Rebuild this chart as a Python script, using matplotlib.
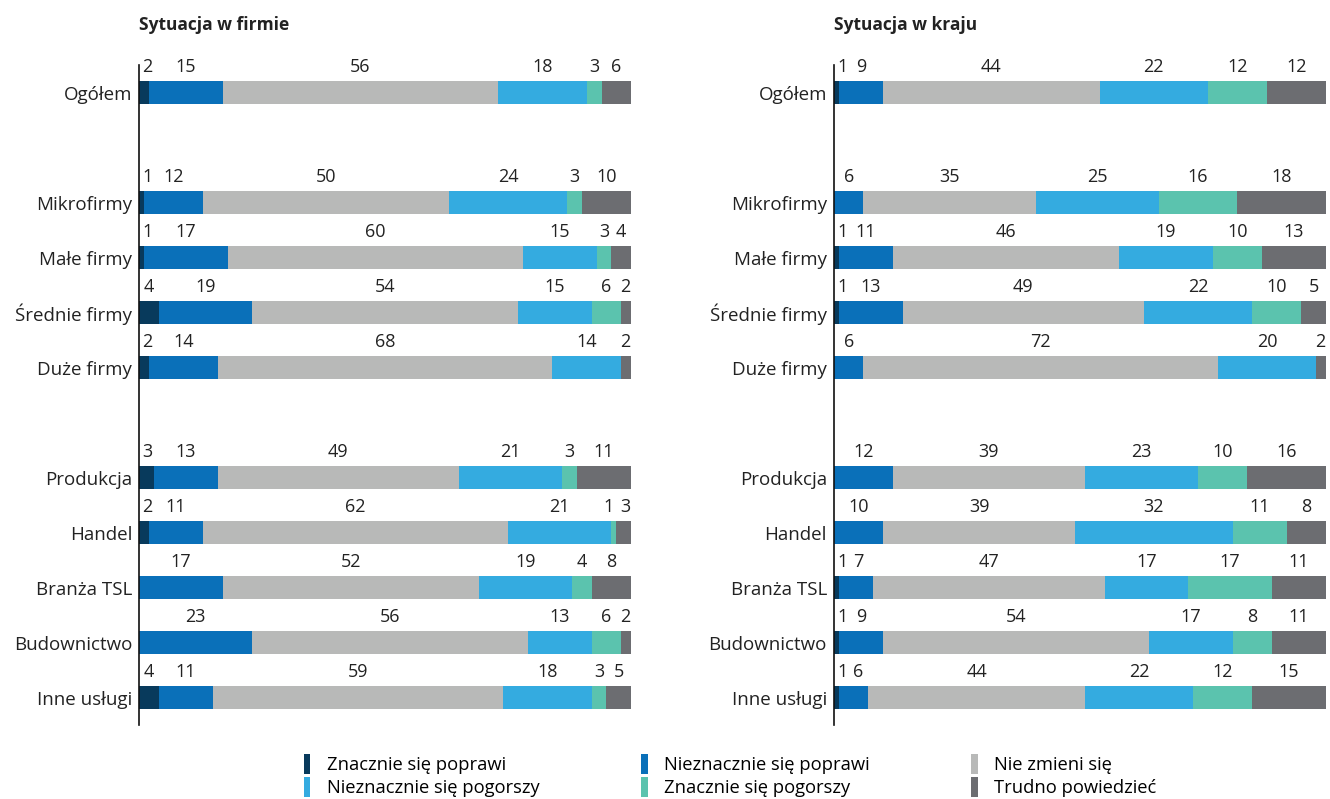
import matplotlib
matplotlib.use("Agg")
from matplotlib import pyplot as plt
from matplotlib.patches import Patch

plt.rcParams['font.family'] = ['Open Sans', 'DejaVu Sans']

categories = ['Ogółem', 'Mikrofirmy', 'Małe firmy', 'Średnie firmy', 'Duże firmy',
              'Produkcja', 'Handel', 'Branża TSL', 'Budownictwo', 'Inne usługi']
# row slots (gaps after Ogółem and after Duże firmy)
slots = [0, 2, 3, 4, 5, 7, 8, 9, 10, 11]

answers = ['Znacznie się poprawi', 'Nieznacznie się poprawi', 'Nie zmieni się',
           'Nieznacznie się pogorszy', 'Znacznie się pogorszy', 'Trudno powiedzieć']
colors = ['#083a5c', '#0a70b9', '#b8b9b8', '#34abe0', '#5bc3ae', '#6c6d71']

# one list per category: values for each answer
firma = [
    [2, 15, 56, 18, 3, 6],
    [1, 12, 50, 24, 3, 10],
    [1, 17, 60, 15, 3, 4],
    [4, 19, 54, 15, 6, 2],
    [2, 14, 68, 14, 0, 2],
    [3, 13, 49, 21, 3, 11],
    [2, 11, 62, 21, 1, 3],
    [0, 17, 52, 19, 4, 8],
    [0, 23, 56, 13, 6, 2],
    [4, 11, 59, 18, 3, 5],
]
kraj = [
    [1, 9, 44, 22, 12, 12],
    [0, 6, 35, 25, 16, 18],
    [1, 11, 46, 19, 10, 13],
    [1, 13, 49, 22, 10, 5],
    [0, 6, 72, 20, 0, 2],
    [0, 12, 39, 23, 10, 16],
    [0, 10, 39, 32, 11, 8],
    [1, 7, 47, 17, 17, 11],
    [1, 9, 54, 17, 8, 11],
    [1, 6, 44, 22, 12, 15],
]

fig = plt.figure(figsize=(13.3, 7.99), dpi=100)
ax1 = fig.add_axes([0.1045, 0.0926, 0.370, 0.826])
ax2 = fig.add_axes([0.627, 0.0926, 0.370, 0.826])


def label_positions(row):
    # centre of each non-zero segment, nudged so small labels don't collide
    xs, vals, left = [], [], 0
    for i, v in enumerate(row):
        if v > 0:
            xs.append(left + v / 2)
            vals.append((i, v))
        left += v
    xs[0] = max(xs[0], 1.7)
    for k in range(1, len(xs)):
        if xs[k] - xs[k - 1] < 3.3:
            xs[k] = xs[k - 1] + 3.3
    xs[-1] = min(xs[-1], 98.8)
    for k in range(len(xs) - 2, -1, -1):
        if xs[k + 1] - xs[k] < 3.3:
            xs[k] = xs[k + 1] - 3.3
    return xs, vals


def draw(ax, data, title):
    for row, y in zip(data, slots):
        left = 0
        for v, c in zip(row, colors):
            if v > 0:
                ax.barh(y, v, left=left, height=0.43, color=c,
                        edgecolor='none')
            left += v
        xs, vals = label_positions(row)
        for xt, (i, v) in zip(xs, vals):
            ax.text(xt, y - 0.47, str(v), ha='center', va='center',
                    fontsize=13, color='#222222')
    ax.set_xlim(0, 100)
    ax.set_ylim(11.5, -0.5)
    ax.set_yticks(slots)
    ax.set_yticklabels(categories, fontsize=13.5, color='#222222')
    ax.tick_params(axis='y', length=0, pad=5)
    ax.set_xticks([])
    for s in ['top', 'right', 'bottom']:
        ax.spines[s].set_visible(False)
    ax.spines['left'].set_color('#111111')
    ax.spines['left'].set_linewidth(1.2)
    ax.text(0, -1.22, title, fontsize=12.5, fontweight='bold',
            ha='left', va='center', color='#222222')


draw(ax1, firma, 'Sytuacja w firmie')
draw(ax2, kraj, 'Sytuacja w kraju')

handles = [Patch(facecolor=c, edgecolor='none') for c in colors]
order = [0, 3, 1, 4, 2, 5]
fig.legend([handles[i] for i in order], [answers[i] for i in order],
           ncol=3, loc='center', bbox_to_anchor=(0.549, 0.0295),
           frameon=False, fontsize=13.2, handlelength=0.35, handleheight=1.3,
           handletextpad=0.9, columnspacing=5.55, labelspacing=0.12)

fig.savefig('out.png', dpi=100)
